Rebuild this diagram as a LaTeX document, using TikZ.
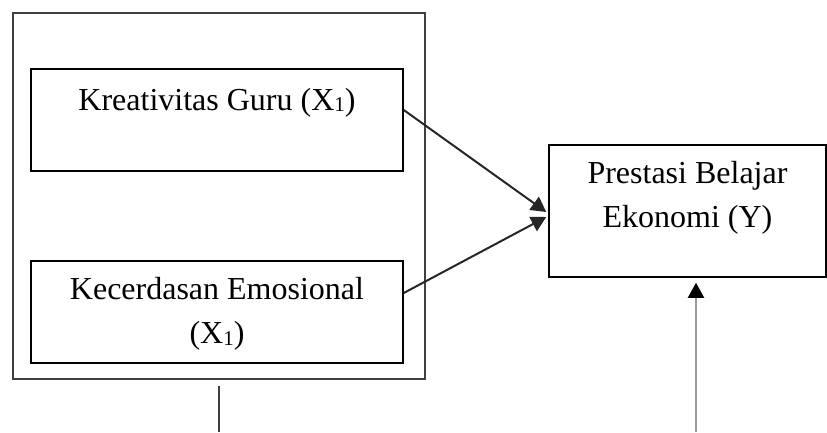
\documentclass[tikz,border=0pt]{standalone}
\usepackage{fontspec}
\setmainfont{Liberation Serif}
\usetikzlibrary{arrows.meta,positioning}
\newcommand{\subsatu}{\raisebox{-1.5pt}{\fontsize{21}{21}\selectfont 1}}
\tikzset{
    varbox/.style={draw=black, line width=1.5pt, minimum width=372pt, minimum height=102pt, inner sep=0pt},
    vartext/.style={font=\fontsize{32}{44}\selectfont, align=center, inner sep=0pt},
    arr/.style={line width=2pt, -{Triangle[length=15pt,width=16pt]}}
}
\begin{document}
\begin{tikzpicture}[x=1pt, y=1pt]
    \useasboundingbox (0,0) rectangle (827,432);
    % kotak luar
    \node[draw=black!75, line width=2pt, minimum width=412pt, minimum height=366pt, inner sep=0pt] (outer) at (219,236) {};
    % variabel bebas
    \node[varbox] (kreatif) at (217,312) {};
    \node[vartext, anchor=base] (kreatiftxt) at (217,322) {Kreativitas Guru (X\subsatu)};
    \node[varbox] (emosi) at (217,120) {};
    \node[vartext] (emositxt) at (217,118) {Kecerdasan Emosional\\(X\subsatu)};
    % variabel terikat
    \node[draw=black, line width=1.5pt, minimum width=277pt, minimum height=132pt, inner sep=0pt] (prestasi) at (687.5,221) {};
    \node[vartext] (prestasitxt) at (687.5,234) {Prestasi Belajar\\Ekonomi (Y)};
    % garis
    \coordinate (bawah1) at (219,0);
    \coordinate (bawah2) at (696,0);
    \draw[arr, black!85] ([yshift=10pt]kreatif.east) -- ([xshift=-2pt,yshift=-1pt]prestasi.west);
    \draw[arr, black!85] ([yshift=19pt]emosi.east) -- ([xshift=-2pt,yshift=-6pt]prestasi.west);
    \draw[line width=2pt, black!75] ([yshift=-6pt]outer.south) -- (bawah1);
    \draw[line width=2pt, black!40, -{Triangle[length=15pt,width=16pt,fill=black,color=black]}] (bawah2) -- ([yshift=-5pt]prestasi.south -| bawah2);
\end{tikzpicture}
\end{document}
